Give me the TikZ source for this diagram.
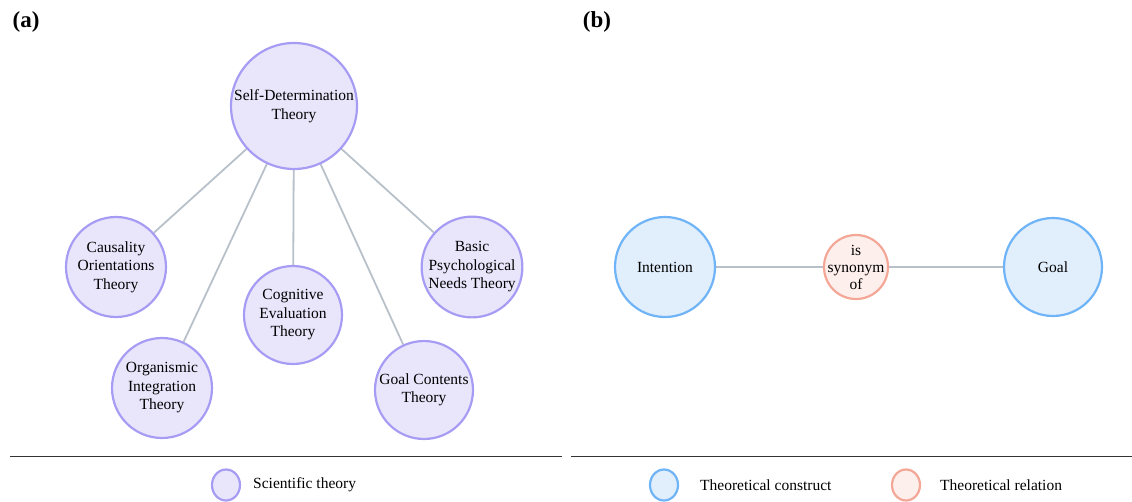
\documentclass[tikz,border=0pt]{standalone}
\usepackage{fontspec}
\setmainfont{Liberation Serif}
\usetikzlibrary{shapes.geometric,backgrounds}
\begin{document}
\begin{tikzpicture}[x=1pt,y=-1pt,
  nodefont/.style={font=\fontsize{15.5}{18.5}\selectfont},
  theory/.style={circle,draw=theoryline,fill=theoryfill,line width=2.2pt,inner sep=0pt,
    align=center,nodefont},
  construct/.style={circle,draw=constructline,fill=constructfill,line width=2.2pt,inner sep=0pt,
    align=center,nodefont},
  relation/.style={circle,draw=relationline,fill=relationfill,line width=2.2pt,inner sep=0pt,
    align=center,nodefont},
  legmark/.style={ellipse,minimum width=28pt,minimum height=31pt},
  edge/.style={draw=edgecol,line width=1.8pt},
  legtext/.style={anchor=west,inner sep=0pt,font=\fontsize{15.5}{18}\selectfont},
  panel/.style={anchor=center,inner sep=0pt,font=\fontsize{23}{26}\selectfont\bfseries},
  sep/.style={draw=black!80,line width=0.8pt}]
\definecolor{theoryline}{HTML}{A79CF4}
\definecolor{theoryfill}{HTML}{E9E6FC}
\definecolor{constructline}{HTML}{6FB4F7}
\definecolor{constructfill}{HTML}{E1EEFC}
\definecolor{relationline}{HTML}{F4A797}
\definecolor{relationfill}{HTML}{FDEFEB}
\definecolor{edgecol}{HTML}{B8C1CA}
\useasboundingbox (0,0) rectangle (1132,501);

% panel labels
\node[panel] (la) at (26,22) {(a)};
\node[panel] (lb) at (597,22) {(b)};

% (a) self-determination theory and its mini-theories
\node[theory,minimum size=126pt] (sdt) at (294,106) {Self-Determination\\Theory};
\node[theory,minimum size=100pt] (cot) at (116,267) {Causality\\Orientations\\Theory};
\node[theory,minimum size=100pt] (oit) at (162,388) {Organismic\\Integration\\Theory};
\node[theory,minimum size=98pt] (cet) at (293,315) {Cognitive\\Evaluation\\Theory};
\node[theory,minimum size=98pt] (gct) at (424,390) {Goal Contents\\Theory};
\node[theory,minimum size=98pt] (bpn) at (472,267) {Basic\\Psychological\\Needs Theory};

\begin{scope}[on background layer]
\path[edge] (sdt) -- (cot);
\path[edge] (sdt) -- (oit);
\path[edge] (sdt) -- (cet);
\path[edge] (sdt) -- (gct);
\path[edge] (sdt) -- (bpn);
\end{scope}

% (b) synonym relation between two constructs
\node[construct,minimum size=100pt] (int) at (665,267) {Intention};
\node[relation,minimum size=64pt,inner sep=-9pt,
  font=\fontsize{15.5}{17}\selectfont] (syn) at (856,267) {is\\synonym\\of};
\node[construct,minimum size=98pt] (goal) at (1053,267) {Goal};
\begin{scope}[on background layer]
\path[edge] (int) -- (syn);
\path[edge] (syn) -- (goal);
\end{scope}

% separators
\coordinate (s1a) at (10,456);
\coordinate (s1b) at (562,456);
\coordinate (s2a) at (571,456);
\coordinate (s2b) at (1132,456);
\path[sep] (s1a) -- (s1b);
\path[sep] (s2a) -- (s2b);

% legends
\node[theory,legmark] (l1) at (226,485) {};
\node[legtext] (t1) at (253,485) {Scientific theory};
\node[construct,legmark] (l2) at (664,485) {};
\node[legtext] (t2) at (700,485) {Theoretical construct};
\node[relation,legmark] (l3) at (906,485) {};
\node[legtext] (t3) at (940,485) {Theoretical relation};
\end{tikzpicture}
\end{document}
